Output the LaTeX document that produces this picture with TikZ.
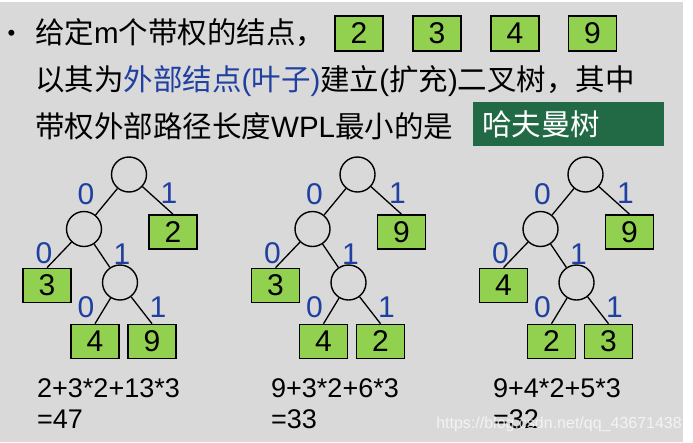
\documentclass[tikz,border=0pt]{standalone}
\usepackage{fontspec}
\setmainfont{Liberation Sans}
\newfontfamily\cjk{Noto Sans CJK SC}
\definecolor{bggray}{RGB}{217,217,217}
\definecolor{tblue}{RGB}{31,64,160}
\definecolor{lgreen}{RGB}{146,208,80}
\definecolor{dgreen}{RGB}{34,106,70}
\tikzset{
  leaf/.style={draw=black, line width=1.6pt, fill=lgreen, minimum width=48pt, minimum height=34pt, inner sep=0pt, font=\fontsize{30}{30}\selectfont},
  inner/.style={draw=black, line width=1.4pt, circle, minimum size=35pt, inner sep=0pt},
  edge/.style={line width=1.3pt},
  bit/.style={text=tblue, inner sep=0pt, font=\fontsize{30}{30}\selectfont},
  line/.style={anchor=base west, inner sep=0pt, font=\fontsize{29.5}{29.5}\selectfont},
  formula/.style={anchor=base west, inner sep=0pt, font=\fontsize{27}{27}\selectfont},
}
\begin{document}
\begin{tikzpicture}[x=1pt,y=-1pt]
\useasboundingbox (0,0) rectangle (693,442);
\fill[white] (0,0) rectangle (693,442);
\fill[bggray] (0,2) rectangle (683,442);

% heading text
\node[anchor=base, inner sep=0pt, font=\fontsize{22}{22}\selectfont] (bul) at (11.5,40) {•};
\node[line] (l1) at (35,43) {{\cjk 给定}m{\cjk 个带权的结点，}};
\node[line] (l2) at (35,90) {{\cjk 以其为}\textcolor{tblue}{{\cjk 外部结点}({\cjk 叶子})}{\cjk 建立}({\cjk 扩充}){\cjk 二叉树，其中}};
\node[line] (l3) at (35,137) {{\cjk 带权外部路径长度}WPL{\cjk 最小的是}};
\node[fill=dgreen, minimum width=191pt, minimum height=44pt, inner sep=0pt] (hbox) at (568.5,124) {};
\node[line, text=white] (htext) at (482,135) {\cjk 哈夫曼树};

\node[leaf, minimum height=35pt] (w2) at (359,33.5) {2};
\node[leaf, minimum height=35pt] (w3) at (437,33.5) {3};
\node[leaf, minimum height=35pt] (w4) at (515,33.5) {4};
\node[leaf, minimum height=35pt] (w9) at (592.5,33.5) {9};

% tree 1
\node[inner] (ar) at (129,174.5) {};
\node[inner] (aa) at (84,229) {};
\node[inner] (ab) at (120,282.5) {};
\node[leaf] (a2) at (173,232) {2};
\node[leaf] (a3) at (47,285.5) {3};
\node[leaf] (a4) at (95,341.5) {4};
\node[leaf] (a9) at (152,341.5) {9};
\draw[edge] (ar) -- (aa);
\draw[edge] (ar) -- (a2.north);
\draw[edge] (aa) -- (a3.north);
\draw[edge] (aa) -- (ab);
\draw[edge] (ab) -- (a4.north);
\draw[edge] (ab) -- (a9.north);
\node[bit] (a0l) at (86,194) {0};
\node[bit] (a1r) at (169,193) {1};
\node[bit] (a0m) at (44,253) {0};
\node[bit] (a1m) at (122,254) {1};
\node[bit] (a0b) at (86,307) {0};
\node[bit] (a1b) at (158,307) {1};
\node[formula] (af1) at (37,397) {2+3*2+13*3};
\node[formula] (af2) at (37,428) {=47};

% tree 2
\begin{scope}[xshift=228.5pt]
\node[inner] (br) at (129,174.5) {};
\node[inner] (ba) at (84,229) {};
\node[inner] (bb) at (120,282.5) {};
\node[leaf] (b9) at (173,232) {9};
\node[leaf] (b3) at (47,285.5) {3};
\node[leaf] (b4) at (95,341.5) {4};
\node[leaf] (b2) at (152,341.5) {2};
\draw[edge] (br) -- (ba);
\draw[edge] (br) -- (b9.north);
\draw[edge] (ba) -- (b3.north);
\draw[edge] (ba) -- (bb);
\draw[edge] (bb) -- (b4.north);
\draw[edge] (bb) -- (b2.north);
\node[bit] (b0l) at (86,194) {0};
\node[bit] (b1r) at (169,193) {1};
\node[bit] (b0m) at (44,253) {0};
\node[bit] (b1m) at (122,254) {1};
\node[bit] (b0b) at (86,307) {0};
\node[bit] (b1b) at (158,307) {1};
\end{scope}
\node[formula] (bf1) at (271,397) {9+3*2+6*3};
\node[formula] (bf2) at (271,428) {=33};

% tree 3
\begin{scope}[xshift=456.5pt]
\node[inner] (cr) at (129,174.5) {};
\node[inner] (ca) at (84,229) {};
\node[inner] (cb) at (120,282.5) {};
\node[leaf] (c9) at (173,232) {9};
\node[leaf] (c4) at (47,285.5) {4};
\node[leaf] (c2) at (95,341.5) {2};
\node[leaf] (c3) at (152,341.5) {3};
\draw[edge] (cr) -- (ca);
\draw[edge] (cr) -- (c9.north);
\draw[edge] (ca) -- (c4.north);
\draw[edge] (ca) -- (cb);
\draw[edge] (cb) -- (c2.north);
\draw[edge] (cb) -- (c3.north);
\node[bit] (c0l) at (86,194) {0};
\node[bit] (c1r) at (169,193) {1};
\node[bit] (c0m) at (44,253) {0};
\node[bit] (c1m) at (122,254) {1};
\node[bit] (c0b) at (86,307) {0};
\node[bit] (c1b) at (158,307) {1};
\end{scope}
\node[formula] (cf1) at (493,397) {9+4*2+5*3};
\node[formula] (cf2) at (493,428) {=32};

\node[anchor=base east, inner sep=0pt, text=white, opacity=0.7, font=\fontsize{16}{16}\selectfont] (wm) at (682,428) {https://blog.csdn.net/qq\_43671438};
\end{tikzpicture}
\end{document}
